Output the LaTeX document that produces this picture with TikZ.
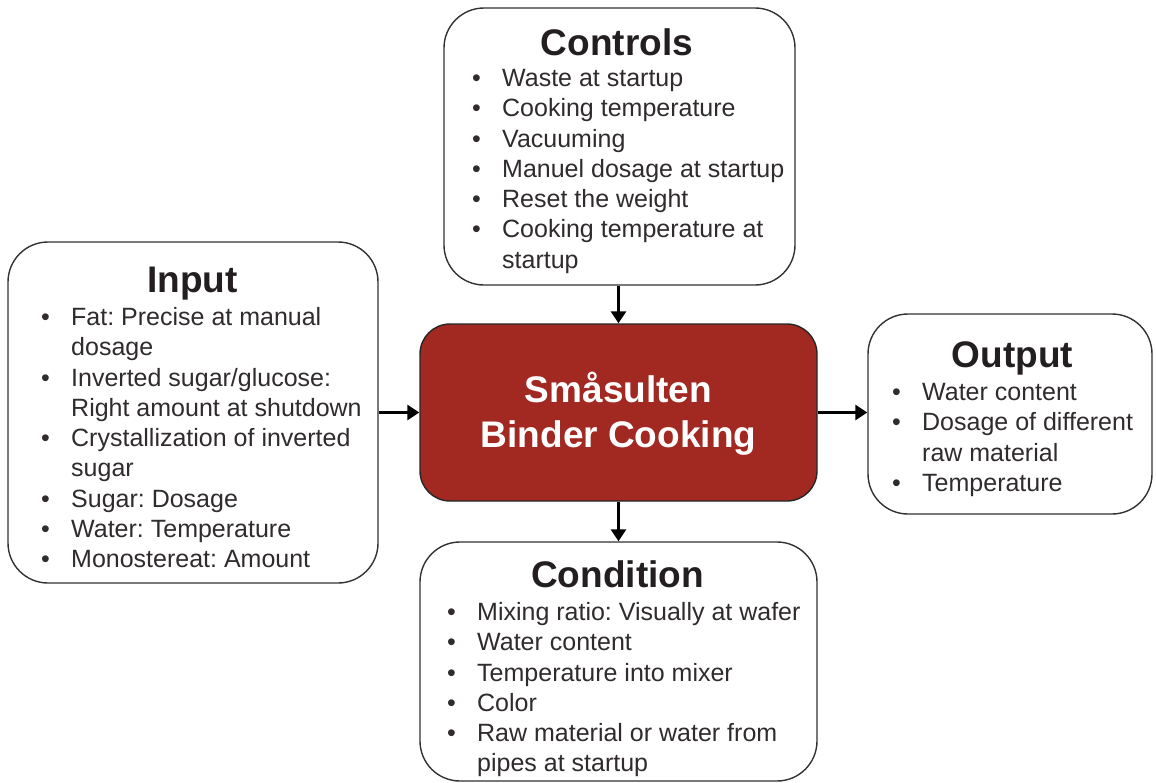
\documentclass[tikz,border=0pt]{standalone}
\usepackage{fontspec}
\setmainfont{Liberation Sans}
\usetikzlibrary{arrows.meta}
\frenchspacing
\definecolor{bodytxt}{RGB}{48,43,45}
\definecolor{titletxt}{RGB}{35,31,32}
\definecolor{coredark}{RGB}{162,40,34}
\definecolor{edgegray}{RGB}{50,50,50}
\newcommand\bul{\strut\makebox[30pt][l]{•}}
\newcommand\ind{\strut\hspace*{30pt}}
\tikzset{
  wbox/.style={draw=edgegray, line width=1.4pt, fill=white, rounded corners=40pt, inner sep=0pt},
  corebox/.style={draw=black!85, line width=1.4pt, fill=coredark, rounded corners=30pt, inner sep=0pt},
  ttl/.style={anchor=base, inner sep=0pt, text=titletxt, font=\fontsize{37}{44}\selectfont\bfseries},
  lst/.style={anchor=north west, inner sep=0pt, align=left, text=bodytxt, font=\fontsize{25}{30.3}\selectfont\frenchspacing},
  coretxt/.style={anchor=north, inner sep=0pt, align=center, text=white, font=\fontsize{37}{45}\selectfont\bfseries},
  arr/.style={draw=black, line width=3.3pt, -{Triangle[length=12pt,width=15pt]}}
}
\begin{document}
\begin{tikzpicture}[x=1pt,y=-1pt]
\useasboundingbox (0,0) rectangle (1156,782);
% boxes
\node[wbox, minimum width=351pt, minimum height=277pt] (controls) at (619.5,146.5) {};
\node[wbox, minimum width=370pt, minimum height=341pt] (input) at (193,412.5) {};
\node[corebox, minimum width=397pt, minimum height=177pt] (core) at (618.5,412.5) {};
\node[wbox, minimum width=284pt, minimum height=200pt] (output) at (1010,414) {};
\node[wbox, minimum width=397pt, minimum height=239pt] (condition) at (618.5,661.5) {};
% titles
\node[ttl] (controlsT) at (617,55) {Controls};
\node[ttl] (inputT) at (192.5,292) {Input};
\node[ttl] (outputT) at (1012.5,367) {Output};
\node[ttl] (conditionT) at (617.5,587) {Condition};
\node[coretxt] (coreT) at (618.5,370.5) {\strut Småsulten\\\strut Binder Cooking};
% lists
\node[lst] (controlsL) at (472,65) {\bul Waste at startup\\
\bul Cooking temperature\\
\bul Vacuuming\\
\bul Manuel dosage at startup\\
\bul Reset the weight\\
\bul Cooking temperature at\\
\ind startup};
\node[lst] (inputL) at (41,304) {\bul Fat: Precise at manual\\
\ind dosage\\
\bul Inverted sugar/glucose:\\
\ind Right amount at shutdown\\
\bul Crystallization of inverted\\
\ind sugar\\
\bul Sugar: Dosage\\
\bul Water: Temperature\\
\bul Monostereat: Amount};
\node[lst] (outputL) at (892,379) {\bul Water content\\
\bul Dosage of different\\
\ind raw material\\
\bul Temperature};
\node[lst] (conditionL) at (447,599) {\bul Mixing ratio: Visually at wafer\\
\bul Water content\\
\bul Temperature into mixer\\
\bul Color\\
\bul Raw material or water from\\
\ind pipes at startup};
% connectors
\draw[arr] (controls.south -| core.north) -- (core.north);
\draw[arr] (input.east) -- (core.west);
\draw[arr] (core.east) -- (core.east -| output.west);
\draw[arr] (core.south) -- (condition.north);
\end{tikzpicture}
\end{document}
